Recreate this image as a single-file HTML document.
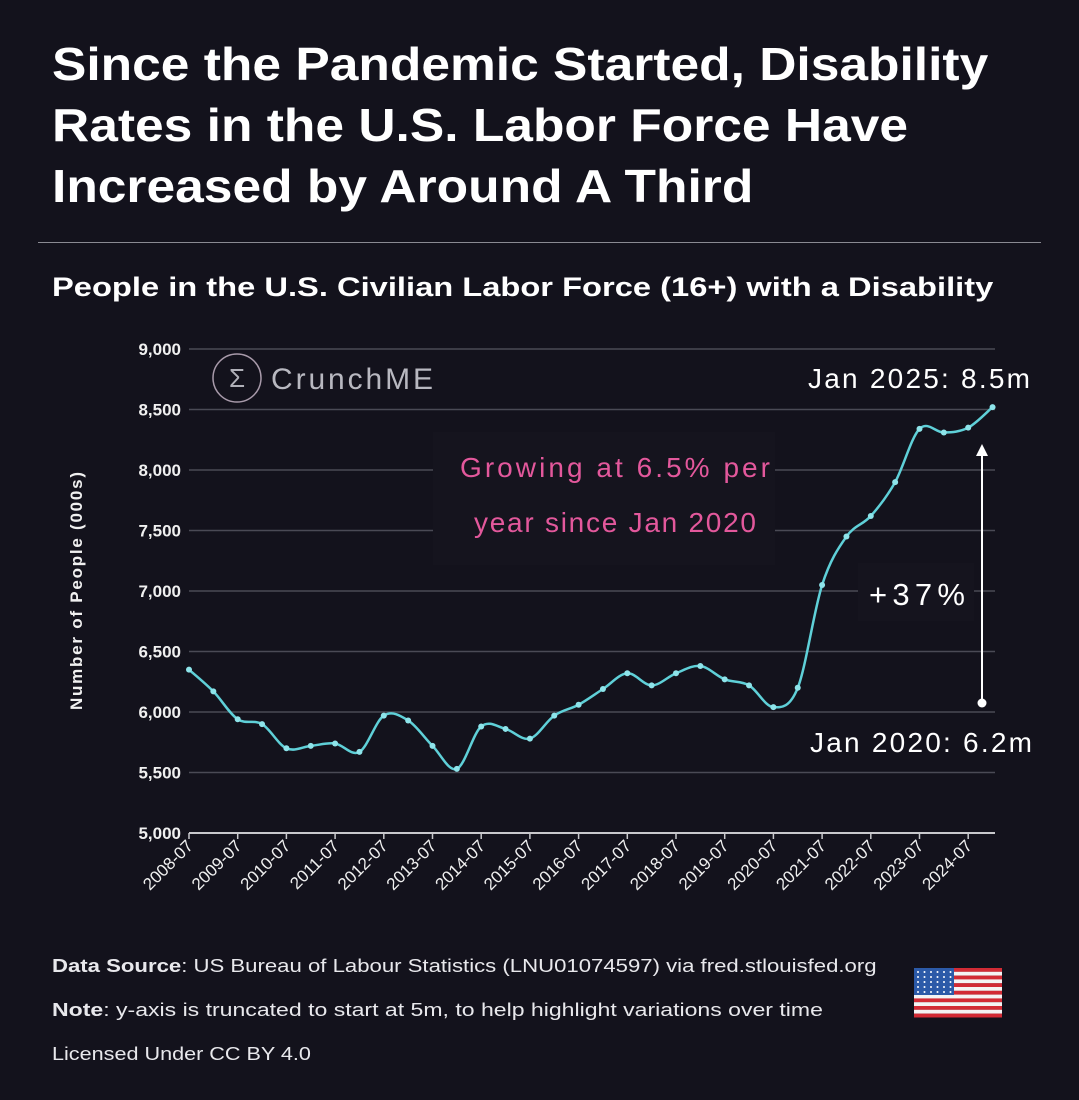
<!DOCTYPE html>
<html><head><meta charset="utf-8"><style>
body{margin:0;width:1079px;height:1100px;background:#13121c;font-family:"Liberation Sans",sans-serif;color:#fff;overflow:hidden;position:relative}
.t{position:absolute;white-space:nowrap;transform-origin:0 0}
</style></head><body>
<div class="t" style="left:52px;top:34px;font-size:46px;font-weight:bold;line-height:61px;transform:scaleX(1.12)">Since the Pandemic Started, Disability<br>Rates in the U.S. Labor Force Have<br>Increased by Around A Third</div>
<div style="position:absolute;left:38px;top:242px;width:1003px;height:1px;background:#8a8a92"></div>
<div class="t" style="left:52px;top:272px;font-size:27px;font-weight:bold;transform:scaleX(1.21)">People in the U.S. Civilian Labor Force (16+) with a Disability</div>
<svg id="ch" width="1079" height="1100" style="position:absolute;left:0;top:0"></svg>
<div class="t" style="left:52px;top:956px;font-size:18px;color:#e8e8ec;transform:scaleX(1.23)"><b>Data Source</b>: US Bureau of Labour Statistics (LNU01074597) via fred.stlouisfed.org</div>
<div class="t" style="left:52px;top:1000px;font-size:18px;color:#e8e8ec;transform:scaleX(1.28)"><b>Note</b>: y-axis is truncated to start at 5m, to help highlight variations over time</div>
<div class="t" style="left:52px;top:1044px;font-size:18px;color:#e8e8ec;transform:scaleX(1.2)">Licensed Under CC BY 4.0</div>
<svg style="position:absolute;left:910px;top:962px" width="96" height="60" viewBox="0 0 96 60">
<g id="fl"></g></svg>
<script>
const values=[6350,6170,5940,5900,5700,5720,5740,5670,5970,5930,5720,5530,5880,5860,5780,5970,6060,6190,6320,6220,6320,6380,6270,6220,6040,6200,7050,7450,7620,7900,8340,8310,8350,8520];
const xLabels=["2008-07","2009-07","2010-07","2011-07","2012-07","2013-07","2014-07","2015-07","2016-07","2017-07","2018-07","2019-07","2020-07","2021-07","2022-07","2023-07","2024-07"];
const yTicks=[5000,5500,6000,6500,7000,7500,8000,8500,9000];
const NS="http://www.w3.org/2000/svg";
const svg=document.getElementById('ch');
const x0=189,step=24.35,yTop=349,yBot=833;
const X=i=>x0+i*step;
const Y=v=>yBot-(v-5000)/4000*(yBot-yTop);
function mk(t,a,p){const e=document.createElementNS(NS,t);for(const k in a)e.setAttribute(k,a[k]);(p||svg).appendChild(e);return e;}
yTicks.forEach(v=>{
 const l=mk('line',{x1:x0,x2:995,y1:Y(v),y2:Y(v),stroke:v===5000?'#c8c8cc':'#4a4a55','stroke-width':v===5000?2:1.5});
 
 
 const t=mk('text',{x:181,y:Y(v)+6,'text-anchor':'end',fill:'#f0f0f0','font-size':17,'font-weight':'bold'});
 t.textContent=v.toLocaleString('en-US');
 
 
});
xLabels.forEach((s,k)=>{
 const x=X(k*2);
 mk('line',{x1:x,x2:x,y1:yBot,y2:yBot+6,stroke:'#c8c8cc','stroke-width':1.5});
 const t=mk('text',{transform:`translate(${x+5},${yBot+14}) rotate(-45)`,'text-anchor':'end',fill:'#f0f0f0','font-size':17});
 t.textContent=s;
 
 
});
const yt=mk('text',{transform:'translate(82,591) rotate(-90)','text-anchor':'middle',fill:'#f0f0f0','font-size':17,'font-weight':'bold',textLength:238});
yt.textContent='Number of People (000s)';


// watermark
mk('circle',{cx:237,cy:378,r:24,fill:'none',stroke:'#a89aaa','stroke-width':1.5});
const sg=mk('text',{x:237,y:387,'text-anchor':'middle',fill:'#b0b0b8','font-size':26});sg.textContent='Σ';
const wm=mk('text',{x:271,y:389,fill:'#b8b8c0','font-size':30,textLength:162});wm.textContent='CrunchME';


// line
const P=values.map((v,i)=>[X(i),Y(v)]);
let d=`M${P[0][0]},${P[0][1]}`;
for(let i=0;i<P.length-1;i++){const p0=P[i-1]||P[i],p1=P[i],p2=P[i+1],p3=P[i+2]||p2;
 d+=` C${p1[0]+(p2[0]-p0[0])/6},${p1[1]+(p2[1]-p0[1])/6} ${p2[0]-(p3[0]-p1[0])/6},${p2[1]-(p3[1]-p1[1])/6} ${p2[0]},${p2[1]}`;}
// annotation backgrounds
mk('rect',{x:433,y:432,width:342,height:133,fill:'#15141e'});
mk('rect',{x:858,y:563,width:116,height:58,fill:'#15141e'});
const ln=mk('path',{d:d,fill:'none',stroke:'#5fd0d8','stroke-width':2.5});


P.forEach(p=>{const c=mk('circle',{cx:p[0],cy:p[1],r:3,fill:'#8ee4ea'});
 
 });
const a1=mk('text',{x:460,y:477,fill:'#e3589c','font-size':28,textLength:310});a1.textContent='Growing at 6.5% per';


const a2=mk('text',{x:474,y:532,fill:'#e3589c','font-size':28,textLength:282});a2.textContent='year since Jan 2020';
mk('line',{x1:982,x2:982,y1:703,y2:452,stroke:'#fff','stroke-width':2});
mk('path',{d:'M976,456 L982,444 L988,456 Z',fill:'#fff'});
mk('circle',{cx:982,cy:703,r:4.5,fill:'#fff'});
const pc=mk('text',{x:869,y:605,fill:'#fff','font-size':31,textLength:96});pc.textContent='+37%';


const j1=mk('text',{x:808,y:388,fill:'#fff','font-size':28,textLength:222});j1.textContent='Jan 2025: 8.5m';


const j2=mk('text',{x:810,y:752,fill:'#fff','font-size':28,textLength:222});j2.textContent='Jan 2020: 6.2m';


// flag
const fl=document.getElementById('fl');
for(let i=0;i<13;i++)mk('rect',{x:4,y:6+i*3.8,width:88,height:3.9,fill:i%2?'#f4f4f4':'#d22b35'},fl);
mk('rect',{x:4,y:6,width:40,height:27,fill:'#2c5aa8'},fl);
for(let r=0;r<5;r++)for(let c=0;c<6;c++)mk('circle',{cx:8+c*6.5,cy:10+r*5,r:1,fill:'#fff'},fl);
</script>
</body></html>
